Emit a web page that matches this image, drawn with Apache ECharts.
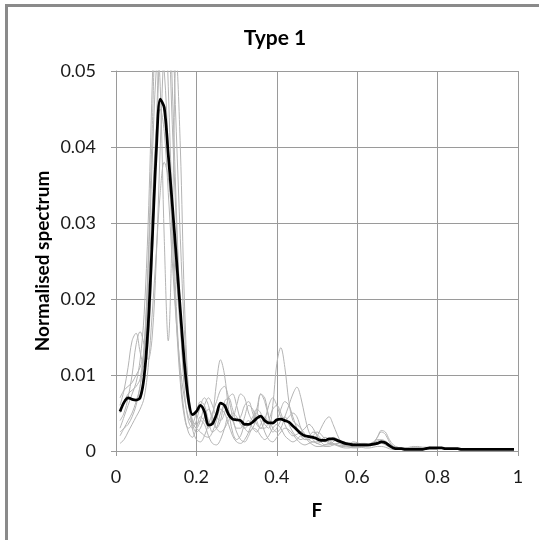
<!DOCTYPE html>
<html>
<head>
<meta charset="utf-8">
<script src="https://cdn.jsdelivr.net/npm/echarts@6/dist/echarts.min.js"></script>
<style>
html,body{margin:0;padding:0;background:#fff;}
#chart{width:539px;height:540px;}
</style>
</head>
<body>
<div id="chart"></div>
<script>
var chartTitle = 'Type 1';
var xName = 'F';
var yName = 'Normalised spectrum';

var freq = [0.01,0.02,0.03,0.04,0.05,0.06,0.07,0.08,0.09,0.10,
0.11,0.12,0.13,0.14,0.15,0.16,0.17,0.18,0.19,0.20,
0.21,0.22,0.23,0.24,0.25,0.26,0.27,0.28,0.29,0.30,
0.31,0.32,0.33,0.34,0.35,0.36,0.37,0.38,0.39,0.40,
0.41,0.42,0.43,0.44,0.45,0.46,0.47,0.48,0.49,0.50,
0.51,0.52,0.53,0.54,0.55,0.56,0.57,0.58,0.59,0.60,
0.61,0.62,0.63,0.64,0.65,0.66,0.67,0.68,0.69,0.70,
0.71,0.72,0.73,0.74,0.75,0.76,0.77,0.78,0.79,0.80,
0.81,0.82,0.83,0.84,0.85,0.86,0.87,0.88,0.89,0.90,
0.91,0.92,0.93,0.94,0.95,0.96,0.97,0.98,0.99];

var meanSpectrum = [0.0052,0.0064,0.0070,0.0068,0.0067,0.0070,0.0098,0.0165,0.0275,0.0392,
0.0463,0.0452,0.0390,0.0325,0.0255,0.0185,0.0117,0.0068,0.0048,0.0052,
0.0060,0.0052,0.0034,0.0036,0.0048,0.0063,0.0060,0.0048,0.0042,0.0041,
0.0040,0.0035,0.0035,0.0038,0.0043,0.0046,0.0040,0.0037,0.0037,0.0041,
0.0042,0.0040,0.0038,0.0033,0.0028,0.0023,0.0020,0.0019,0.0018,0.0016,
0.0014,0.0014,0.0016,0.0016,0.0014,0.0012,0.0010,0.0009,0.0008,0.0008,
0.0008,0.0008,0.0008,0.0009,0.0010,0.0012,0.0011,0.0007,0.0004,0.0003,
0.0003,0.0002,0.0002,0.0002,0.0002,0.0002,0.0003,0.0004,0.0004,0.0004,
0.0004,0.0003,0.0003,0.0003,0.0003,0.0002,0.0002,0.0002,0.0002,0.0002,
0.0002,0.0002,0.0002,0.0002,0.0002,0.0002,0.0002,0.0002,0.0002];

var trace1 = [0.0030,0.0045,0.0060,0.0075,0.0090,0.0120,0.0180,0.0300,0.0480,0.0650,
0.0720,0.0640,0.0480,0.0320,0.0190,0.0100,0.0050,0.0025,0.0018,0.0030,
0.0045,0.0040,0.0030,0.0045,0.0090,0.0120,0.0100,0.0055,0.0025,0.0015,
0.0020,0.0035,0.0040,0.0030,0.0025,0.0035,0.0045,0.0035,0.0025,0.0030,
0.0040,0.0045,0.0035,0.0025,0.0018,0.0015,0.0018,0.0020,0.0015,0.0010,
0.0012,0.0015,0.0012,0.0010,0.0008,0.0007,0.0008,0.0010,0.0008,0.0006,
0.0006,0.0007,0.0009,0.0012,0.0015,0.0014,0.0010,0.0006,0.0004,0.0003,
0.0003,0.0003,0.0004,0.0004,0.0003,0.0003,0.0004,0.0005,0.0004,0.0003];

var trace2 = [0.0060,0.0080,0.0110,0.0145,0.0155,0.0130,0.0110,0.0140,0.0250,0.0400,
0.0540,0.0600,0.0560,0.0430,0.0300,0.0190,0.0110,0.0060,0.0035,0.0025,
0.0030,0.0045,0.0055,0.0045,0.0030,0.0025,0.0030,0.0040,0.0050,0.0045,
0.0035,0.0030,0.0035,0.0045,0.0055,0.0050,0.0035,0.0030,0.0060,0.0115,
0.0136,0.0110,0.0065,0.0040,0.0035,0.0030,0.0022,0.0015,0.0012,0.0012,
0.0015,0.0018,0.0015,0.0010,0.0008,0.0006,0.0006,0.0008,0.0010,0.0009,
0.0007,0.0006,0.0007,0.0010,0.0018,0.0025,0.0022,0.0012,0.0006,0.0004,
0.0003,0.0002,0.0003,0.0005,0.0006,0.0005,0.0003,0.0002,0.0002,0.0002];

var trace3 = [0.0040,0.0050,0.0070,0.0100,0.0140,0.0157,0.0140,0.0120,0.0150,0.0250,
0.0400,0.0540,0.0620,0.0560,0.0420,0.0280,0.0160,0.0080,0.0040,0.0030,
0.0040,0.0060,0.0070,0.0060,0.0045,0.0040,0.0050,0.0070,0.0075,0.0060,
0.0040,0.0030,0.0025,0.0030,0.0045,0.0075,0.0070,0.0045,0.0030,0.0025,
0.0030,0.0045,0.0060,0.0075,0.0084,0.0070,0.0045,0.0025,0.0018,0.0020,
0.0030,0.0040,0.0045,0.0035,0.0022,0.0012,0.0008,0.0006,0.0006,0.0007,
0.0008,0.0008,0.0008,0.0010,0.0018,0.0027,0.0025,0.0015,0.0008,0.0005,
0.0004,0.0004,0.0005,0.0006,0.0005,0.0004,0.0003,0.0003,0.0003,0.0002];

var trace4 = [0.0020,0.0030,0.0040,0.0050,0.0065,0.0085,0.0130,0.0250,0.0420,0.0560,
0.0480,0.0280,0.0145,0.0300,0.0520,0.0400,0.0200,0.0080,0.0030,0.0015,
0.0012,0.0020,0.0035,0.0050,0.0065,0.0080,0.0085,0.0070,0.0045,0.0030,
0.0030,0.0045,0.0060,0.0055,0.0040,0.0030,0.0030,0.0040,0.0055,0.0060,
0.0050,0.0035,0.0025,0.0020,0.0022,0.0025,0.0030,0.0035,0.0030,0.0020,
0.0012,0.0008,0.0008,0.0012,0.0015,0.0012,0.0008,0.0006,0.0005,0.0006,
0.0007,0.0008,0.0008,0.0009,0.0010,0.0011,0.0010,0.0008,0.0006,0.0005,
0.0004,0.0004,0.0003,0.0003,0.0004,0.0005,0.0005,0.0004,0.0003,0.0003];

var trace5 = [0.0010,0.0015,0.0025,0.0035,0.0045,0.0055,0.0070,0.0110,0.0180,0.0260,
0.0340,0.0380,0.0360,0.0300,0.0230,0.0160,0.0100,0.0060,0.0040,0.0035,
0.0040,0.0035,0.0020,0.0010,0.0008,0.0015,0.0030,0.0045,0.0040,0.0025,
0.0015,0.0012,0.0020,0.0030,0.0028,0.0020,0.0015,0.0020,0.0030,0.0035,
0.0030,0.0020,0.0015,0.0012,0.0015,0.0020,0.0018,0.0012,0.0008,0.0006,
0.0006,0.0008,0.0010,0.0009,0.0007,0.0005,0.0004,0.0004,0.0005,0.0005,
0.0005,0.0004,0.0004,0.0005,0.0006,0.0006,0.0005,0.0003,0.0002,0.0002,
0.0002,0.0002,0.0002,0.0002,0.0002,0.0002,0.0002,0.0002,0.0002,0.0002];

var trace6 = [0.0050,0.0065,0.0075,0.0080,0.0085,0.0095,0.0140,0.0240,0.0380,0.0500,
0.0540,0.0500,0.0400,0.0280,0.0170,0.0090,0.0045,0.0030,0.0035,0.0050,
0.0065,0.0060,0.0040,0.0025,0.0030,0.0050,0.0060,0.0050,0.0045,0.0060,
0.0075,0.0070,0.0050,0.0040,0.0055,0.0075,0.0065,0.0045,0.0035,0.0040,
0.0055,0.0065,0.0060,0.0045,0.0030,0.0020,0.0015,0.0015,0.0020,0.0025,
0.0022,0.0015,0.0010,0.0008,0.0010,0.0012,0.0010,0.0008,0.0007,0.0008,
0.0010,0.0010,0.0008,0.0007,0.0009,0.0012,0.0012,0.0009,0.0006,0.0004,
0.0003,0.0003,0.0003,0.0004,0.0004,0.0003,0.0003,0.0002,0.0002,0.0002];

var trace7 = [0.0025,0.0030,0.0035,0.0045,0.0060,0.0085,0.0130,0.0210,0.0320,0.0420,
0.0450,0.0420,0.0340,0.0250,0.0170,0.0110,0.0070,0.0045,0.0035,0.0030,
0.0025,0.0020,0.0018,0.0025,0.0040,0.0055,0.0050,0.0035,0.0020,0.0012,
0.0010,0.0015,0.0025,0.0040,0.0050,0.0040,0.0025,0.0015,0.0012,0.0018,
0.0025,0.0030,0.0028,0.0022,0.0015,0.0010,0.0008,0.0010,0.0012,0.0010,
0.0008,0.0006,0.0006,0.0008,0.0010,0.0009,0.0007,0.0005,0.0004,0.0004,
0.0005,0.0006,0.0007,0.0008,0.0009,0.0010,0.0008,0.0005,0.0003,0.0002,
0.0002,0.0002,0.0002,0.0002,0.0003,0.0003,0.0002,0.0002,0.0002,0.0002];

var trace8 = [0.0070,0.0080,0.0085,0.0090,0.0100,0.0110,0.0130,0.0180,0.0280,0.0420,
0.0580,0.0660,0.0620,0.0480,0.0320,0.0180,0.0080,0.0040,0.0030,0.0040,
0.0060,0.0070,0.0060,0.0040,0.0030,0.0040,0.0065,0.0070,0.0055,0.0040,
0.0045,0.0060,0.0065,0.0050,0.0035,0.0030,0.0040,0.0060,0.0070,0.0060,
0.0045,0.0040,0.0045,0.0050,0.0045,0.0030,0.0020,0.0020,0.0025,0.0022,
0.0016,0.0012,0.0014,0.0018,0.0016,0.0012,0.0010,0.0010,0.0012,0.0011,
0.0009,0.0008,0.0009,0.0011,0.0013,0.0015,0.0013,0.0009,0.0006,0.0004,
0.0004,0.0004,0.0004,0.0004,0.0004,0.0003,0.0003,0.0003,0.0003,0.0003];

var traces = [trace1, trace2, trace3, trace4, trace5, trace6, trace7, trace8];

function pairs(vals) {
  return vals.map(function (v, i) { return [freq[i], v]; });
}

var FONT = 'Lato';
var series = traces.map(function (t, k) {
  return {
    name: 'trace' + (k + 1), type: 'line', data: pairs(t),
    showSymbol: false, smooth: 0.35, clip: true,
    lineStyle: { color: '#b4b4b4', width: 1 }, z: 2
  };
});
series.push({
  name: 'mean', type: 'line', data: pairs(meanSpectrum),
  showSymbol: false, smooth: 0.3, clip: true,
  lineStyle: { color: '#000000', width: 2.75 }, z: 5
});

var chart = echarts.init(document.getElementById('chart'), null, { renderer: 'canvas' });
chart.setOption({
  animation: false,
  backgroundColor: '#ffffff',
  grid: { left: 116, right: 21, top: 71, bottom: 89, containLabel: false },
  xAxis: {
    type: 'value', min: 0, max: 1, interval: 0.2,
    axisLine: { show: true, lineStyle: { color: '#9a9a9a', width: 1 } },
    axisTick: { show: true, length: 5, lineStyle: { color: '#9a9a9a' } },
    axisLabel: { color: '#1a1a1a', fontFamily: FONT, fontSize: 18, margin: 17 },
    splitLine: { show: true, lineStyle: { color: '#9a9a9a', width: 1 } }
  },
  yAxis: {
    type: 'value', min: 0, max: 0.05, interval: 0.01,
    axisLine: { show: true, lineStyle: { color: '#9a9a9a', width: 1 } },
    axisTick: { show: true, length: 5, lineStyle: { color: '#9a9a9a' } },
    axisLabel: { color: '#1a1a1a', fontFamily: FONT, fontSize: 18, margin: 20 },
    splitLine: { show: true, lineStyle: { color: '#9a9a9a', width: 1 } }
  },
  series: series,
  graphic: [
    { type: 'rect', shape: { x: 6.5, y: 5.5, width: 700, height: 700 },
      style: { fill: 'none', stroke: '#8a8a8a', lineWidth: 3 }, z: 100, silent: true },
    { type: 'text', x: 275, y: 38,
      style: { text: chartTitle, fontFamily: FONT, fontWeight: 'bold', fontSize: 21,
               fill: '#000', textAlign: 'center', textVerticalAlign: 'middle' } },
    { type: 'text', x: 317, y: 511,
      style: { text: xName, fontFamily: FONT, fontWeight: 'bold', fontSize: 19,
               fill: '#000', textAlign: 'center', textVerticalAlign: 'middle' } },
    { type: 'text', x: 43, y: 261, rotation: Math.PI / 2,
      style: { text: yName, fontFamily: FONT, fontWeight: 'bold', fontSize: 19,
               fill: '#000', textAlign: 'center', textVerticalAlign: 'middle' } }
  ]
});
</script>
</body>
</html>
